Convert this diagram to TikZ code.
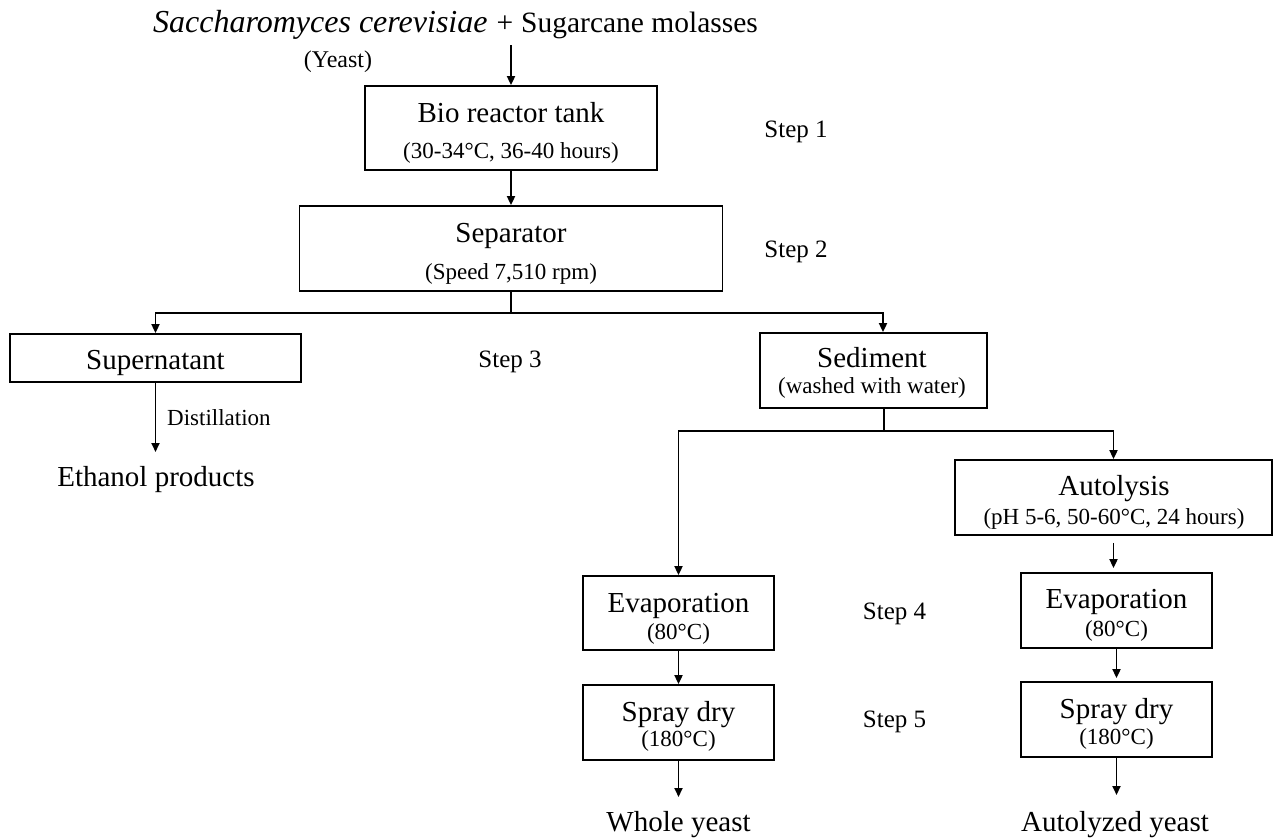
\documentclass[tikz,border=0pt]{standalone}
\usepackage{fontspec}
\setmainfont{Liberation Serif}
\usetikzlibrary{arrows.meta}
\begin{document}
\begin{tikzpicture}[x=1pt,y=-1pt,
  box/.style={draw, line width=1.8pt, inner sep=0pt},
  ttl/.style={anchor=base, inner sep=0pt, font=\fontsize{29}{34}\selectfont},
  sub/.style={anchor=base, inner sep=0pt, font=\fontsize{23}{27}\selectfont},
  steplbl/.style={anchor=base, inner sep=0pt, font=\fontsize{25}{30}\selectfont},
  arr/.style={line width=1.8pt, -{Triangle[length=9pt,width=8pt]}},
  ln/.style={line width=1.8pt}]
\path[use as bounding box] (0,0) rectangle (1276,838);

% source line
\node[anchor=base west, inner sep=0pt] (src) at (153,32)
  {\fontsize{32}{36}\selectfont\itshape Saccharomyces cerevisiae\fontsize{29.5}{34}\selectfont\upshape\hspace{9pt}+\hspace{8pt}Sugarcane molasses};
\node[anchor=base, inner sep=0pt, font=\fontsize{24}{28}\selectfont] (yeast) at (338,67) {(Yeast)};

% boxes
\node[box, minimum width=292pt, minimum height=84pt] (bio) at (511,128) {};
\node[box, minimum width=423pt, minimum height=85pt] (sep) at (511,248.5) {};
\node[box, minimum width=291pt, minimum height=48pt] (sup) at (155.5,358) {};
\node[box, minimum width=227pt, minimum height=75pt] (sed) at (873.5,370.5) {};
\node[box, minimum width=317pt, minimum height=75pt] (aut) at (1113.5,497.5) {};
\node[box, minimum width=191pt, minimum height=74pt] (evL) at (678.5,613) {};
\node[box, minimum width=191pt, minimum height=75pt] (evR) at (1116.5,610.5) {};
\node[box, minimum width=191pt, minimum height=75pt] (spL) at (678.5,722.5) {};
\node[box, minimum width=191pt, minimum height=75pt] (spR) at (1116.5,719.5) {};

% box texts
\node[ttl] (bioT) at (511,122) {Bio reactor tank};
\node[sub] (bioS) at (511,158) {(30-34°C, 36-40 hours)};
\node[ttl] (sepT) at (511,242) {Separator};
\node[sub] (sepS) at (511,279) {(Speed 7,510 rpm)};
\node[ttl] (supT) at (155.5,369) {Supernatant};
\node[ttl] (sedT) at (872,367) {Sediment};
\node[sub] (sedS) at (872,393) {(washed with water)};
\node[ttl] (autT) at (1114,495) {Autolysis};
\node[sub] (autS) at (1114,524) {(pH 5-6, 50-60°C, 24 hours)};
\node[ttl] (evLT) at (678.5,612) {Evaporation};
\node[sub] (evLS) at (678.5,639) {(80°C)};
\node[ttl] (evRT) at (1116.5,608) {Evaporation};
\node[sub] (evRS) at (1116.5,636) {(80°C)};
\node[ttl] (spLT) at (678.5,721) {Spray dry};
\node[sub] (spLS) at (678.5,746) {(180°C)};
\node[ttl] (spRT) at (1116.5,718) {Spray dry};
\node[sub] (spRS) at (1116.5,744) {(180°C)};

% products
\node[ttl] (eth) at (156,486) {Ethanol products};
\node[ttl] (whole) at (678.5,831) {Whole yeast};
\node[ttl] (autoy) at (1115,831) {Autolyzed yeast};
\node[sub, anchor=base west] (dist) at (167,425) {Distillation};

% steps
\node[steplbl] (s1) at (796,137) {Step 1};
\node[steplbl] (s2) at (796,257) {Step 2};
\node[steplbl] (s3) at (510,367) {Step 3};
\node[steplbl] (s4) at (894.5,619) {Step 4};
\node[steplbl] (s5) at (894.5,727) {Step 5};

% connectors
\coordinate (c0) at (511,45);
\draw[arr] (c0) -- (bio.north);
\draw[arr] (bio.south) -- (sep.north);
\coordinate (j1) at (511,313);
\draw[ln] (sep.south) -- (j1);
\draw[arr] (j1) -| (sup.north);
\draw[arr] (j1) -| ([xshift=9.5pt]sed.north);
\coordinate (ethin) at (155.5,452);
\draw[arr] (sup.south) -- (ethin);
\coordinate (j2) at (884,431);
\draw[ln] ([xshift=10.5pt]sed.south) -- (j2);
\draw[arr] (j2) -| (evL.north);
\draw[arr] (j2) -| (aut.north);
\draw[arr, shorten <=7pt, shorten >=4pt] (aut.south) -- (aut.south |- evR.north);
\draw[arr] (evL.south) -- (spL.north);
\draw[arr, shorten >=3pt] (evR.south) -- (spR.north);
\coordinate (wyin) at (678.5,797);
\draw[arr] (spL.south) -- (wyin);
\coordinate (ayin) at (1116.5,795);
\draw[arr] (spR.south) -- (ayin);
\end{tikzpicture}
\end{document}
